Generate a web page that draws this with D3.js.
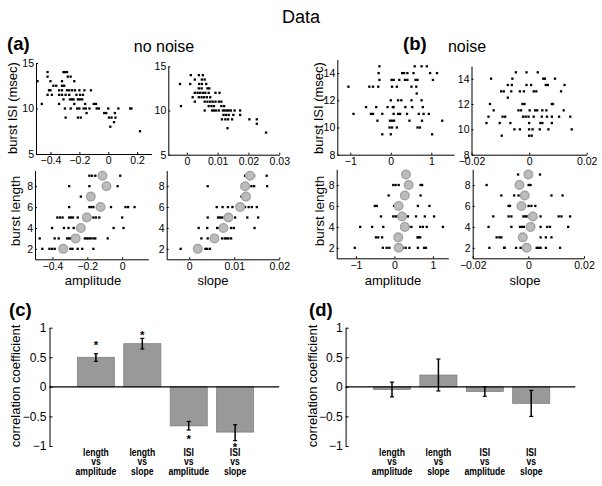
<!DOCTYPE html>
<html><head><meta charset="utf-8">
<script src="https://cdn.jsdelivr.net/npm/d3@7"></script>
<style>body{margin:0;background:#fff} svg{display:block} text{font-family:"Liberation Sans",Arial,Helvetica,sans-serif}</style>
</head><body><svg id="fig" width="602" height="486"></svg>
<script>
// ---------- DATA ----------
// (a) no noise: amplitude vs burst ISI
const noNoiseAmpISI = [[-0.49,13],[-0.46,10.5],[-0.42,13.5],[-0.42,14],[-0.40,13],[-0.41,12],[-0.40,12],[-0.42,11.5],[-0.39,11.5],[-0.38,12.5],[-0.36,12.5],[-0.34,12],[-0.32,12],[-0.34,11.5],[-0.32,11.5],[-0.295,11.5],[-0.34,10.5],[-0.32,13],[-0.31,14],[-0.30,14],[-0.285,14],[-0.32,12.5],[-0.305,12.5],[-0.31,11],[-0.30,10],[-0.295,9],[-0.28,13.5],[-0.26,13.5],[-0.285,12],[-0.27,12],[-0.25,12],[-0.27,11.5],[-0.265,11],[-0.25,11],[-0.24,11],[-0.235,13],[-0.26,10],[-0.235,10.5],[-0.23,12],[-0.22,11.5],[-0.21,11],[-0.195,11],[-0.18,11],[-0.2,12],[-0.165,12],[-0.195,11.5],[-0.175,11.5],[-0.215,10],[-0.2,10],[-0.21,9],[-0.19,9],[-0.16,10.5],[-0.17,10],[-0.155,10],[-0.15,9.5],[-0.13,10],[-0.12,12],[-0.1,10.5],[-0.085,10.5],[-0.08,10],[-0.065,10],[-0.028,9.5],[-0.014,9.5],[0,10],[0.005,9],[0.023,9],[0.014,8],[0.04,8.5],[0.05,9],[0.046,9.5],[0.07,10],[0.152,10],[0.16,10],[0.22,7.5]];
// (a) no noise: slope vs burst ISI
const noNoiseSlopeISI = [[-0.0022,13],[-0.0019,10.5],[0.0011,13],[0.0013,14],[0.0026,13.5],[0.0019,11.5],[0.0026,12],[0.0026,11],[0.0039,14],[0.0052,14],[0.004,13],[0.0049,13],[0.0049,13.5],[0.0058,13.5],[0.0039,12.5],[0.0048,12.5],[0.0035,12],[0.0043,12],[0.0052,12],[0.0060,12],[0.0071,12],[0.0039,11.5],[0.0048,11.5],[0.0056,11.5],[0.0065,11.5],[0.0076,11.5],[0.0063,13],[0.0067,12.5],[0.0073,12.5],[0.0058,11],[0.0067,11],[0.0076,11],[0.0084,11],[0.0093,11],[0.0104,11],[0.0112,11],[0.0071,10.5],[0.0080,10.5],[0.0088,10.5],[0.0058,10],[0.0082,10],[0.0088,10],[0.0095,10],[0.0104,10],[0.0093,12],[0.0106,12],[0.0112,10.5],[0.0121,10.5],[0.0117,10],[0.0123,10],[0.0130,10],[0.0136,10],[0.0143,10],[0.0155,10],[0.0173,10],[0.0119,9.5],[0.0127,9.5],[0.0136,9.5],[0.0151,9.5],[0.0173,9.5],[0.0114,9],[0.0125,9],[0.0134,9],[0.0147,9],[0.0132,8],[0.0203,9],[0.0227,9],[0.0227,8.5],[0.0257,7.5]];
// (b) noise: amplitude vs burst ISI
const noiseAmpISI = [[-1.045,13],[-0.92,11],[-0.61,11.5],[-0.49,11],[-0.44,11],[-0.53,13],[-0.44,13],[-0.36,11.5],[-0.33,10.5],[-0.28,14.5],[-0.30,14],[-0.28,13.5],[-0.31,13],[-0.21,11],[-0.21,9.5],[-0.08,11.5],[0,12],[-0.02,10.5],[0.03,10.5],[0.08,10.5],[-0.03,10],[0.03,10],[0.15,10],[0,9.5],[0.02,13.5],[0.07,13.5],[0.03,13],[0.15,13],[0.05,11.5],[0.07,11.5],[0.07,11],[0.18,11],[0.23,11],[0.18,12],[0.26,12],[0.21,13.5],[0.28,14],[0.33,14],[0.41,14],[0.35,13.5],[0.41,13.5],[0.36,11.5],[0.40,11],[0.46,10.5],[0.51,12],[0.51,13],[0.53,11.5],[0.56,14],[0.59,14.5],[0.61,13.5],[0.66,13.5],[0.63,13],[0.64,12.5],[0.69,11],[0.66,10],[0.72,10],[0.76,14.5],[0.76,12],[0.77,10.5],[0.79,11.5],[0.81,11],[0.89,14.5],[0.94,11],[0.97,14],[1.04,13.5],[1.02,9.5],[1.14,14],[1.27,10.5]];
// (b) noise: slope vs burst ISI
const noiseSlopeISI = [[-0.0148,10.5],[-0.0141,11],[-0.0136,12],[-0.0132,14],[-0.0123,11.5],[-0.0102,10.5],[-0.0095,9.5],[-0.0097,13],[-0.0088,13],[-0.0092,11],[-0.0083,11],[-0.0074,12.5],[-0.0074,13.5],[-0.0065,10.5],[-0.0062,13],[-0.006,13.5],[-0.0058,14],[-0.0051,10],[-0.0046,14.5],[-0.0037,11.5],[-0.0028,11.5],[-0.0032,13],[-0.0018,13],[-0.0032,10],[-0.0023,12],[-0.0016,12],[-0.0021,11],[-0.0009,13.5],[-0.0009,14.5],[-0.0012,11],[-0.0002,11],[0.0002,11.5],[0,10.5],[0,10],[0,9.5],[0.0009,9.5],[0.0007,13.5],[0.0012,10],[0.0016,11],[0.0021,11.5],[0.0028,11.5],[0.0016,13],[0.0025,13],[0.003,14.5],[0.0037,10],[0.0039,10.5],[0.0046,10.5],[0.0044,11],[0.0046,11.5],[0.0049,14],[0.0055,14],[0.0058,13.5],[0.0065,13.5],[0.006,11.5],[0.0062,11],[0.0067,10],[0.0079,12],[0.0083,12],[0.0079,10.5],[0.0079,11],[0.009,14],[0.0104,11],[0.0111,13],[0.0120,11.5],[0.0123,13.5],[0.0143,11],[0.0148,10]];

// burst length rows: [length, [x values]]
const lengths = [2,3,4,5,6,7,8,9];
const noNoiseAmpLen = [[9,[-0.188,-0.173,-0.154,-0.011]],[8,[-0.304,-0.188,-0.026]],[7,[-0.237,-0.165]],[6,[-0.304,-0.188,-0.177,-0.165,-0.064,0.019,0.034,0.071]],[5,[-0.372,-0.357,-0.342,-0.304,-0.293,-0.282,-0.255,-0.165,-0.150,-0.131,0]],[4,[-0.402,-0.334,-0.308,-0.278,-0.049,0.008]],[3,[-0.473,-0.387,-0.364,-0.315,-0.304,-0.293,-0.214,-0.203,-0.192,-0.180,-0.165,-0.154,-0.083]],[2,[-0.458,-0.417,-0.402,-0.387,-0.297,-0.285,-0.255,-0.229,-0.165]]];
const noNoiseAmpMean = [-0.338,-0.267,-0.237,-0.203,-0.124,-0.18,-0.09,-0.113];
const noNoiseSlopeLen = [[9,[0.0124,0.0144,0.0172]],[8,[0.0041,0.0138,0.0144,0.0173]],[7,[0.0116,0.0132]],[6,[0.0061,0.0074,0.0086,0.0096,0.0124,0.0132,0.0139,0.0150]],[5,[0.0041,0.0064,0.0068,0.0073,0.0079,0.0102,0.0129,0.0153]],[4,[0.0021,0.0040,0.0062,0.0067,0.0093,0.0099,0.0145]],[3,[0.0027,0.0041,0.0073,0.0079,0.0083,0.0087,0.0093]],[2,[-0.0019,0.0036,0.0040,0.0046]]];
const noNoiseSlopeMean = [0.0019,0.0056,0.0076,0.0087,0.0113,0.0126,0.0124,0.0135];
const noiseAmpLen = [[8,[-0.03,0.03,0.11,0.68,0.72]],[7,[-0.15,0.68]],[6,[-0.51,-0.46,-0.01,0.61,0.91]],[5,[-0.35,-0.03,0.03,0.08,0.35,0.56,0.79,1.03]],[4,[-0.89,-0.58,-0.29,0.37,0.44,0.67,0.74,0.84,1.26]],[3,[-0.48,-0.42,-0.32,0.60,0.63,0.67]],[2,[-1.03,-0.30,-0.20,-0.13,0.03,0.22,0.29,0.39,0.61,0.77,0.82]]];
const noiseAmpMean = [0.11,0.10,0.27,0.20,0.11,0.27,0.37,0.30];
const noiseSlopeLen = [[9,[-0.0037,0.0042]],[8,[-0.015,0.0001,0.0008]],[7,[-0.0097,-0.0051,-0.0035,0.0083,0.0123]],[6,[-0.0071,-0.0066,0.0001,0.0011,0.0025]],[5,[-0.0126,-0.0071,-0.0061,-0.0018,-0.0011,-0.0006,0.0044,0.0109,0.0119,0.015]],[4,[-0.0143,-0.0061,-0.003,-0.0023,-0.0016,0.0044,0.0068,0.0078,0.0143]],[3,[-0.0114,-0.0104,-0.0097,0.0044,0.0063,0.0083]],[2,[-0.014,-0.0087,-0.0085,-0.0044,-0.0028,-0.002,0.003,0.0037,0.0044,0.0063,0.0114]]];
const noiseSlopeMean = [-0.0006,-0.002,0.0008,0.0016,-0.0025,-0.0013,-0.0032,0];

// tick labels
const ticksAmpA = [-0.4,-0.2,0,0.2];
const ticksAmpA2 = [-0.4,-0.2,0];
const ticksSlopeA = [0,0.01,0.02,0.03];
const ticksSlopeA2 = [0,0.01,0.02];
const ticksAmpB = [-1,0,1];
const ticksSlopeB = [-0.02,0,0.02];
const ticksISIA = [5,10,15];
const ticksISIB = [8,10,12,14];
const ticksLen = [2,4,6,8];
const ticksCorr = [-1,-0.5,0,0.5,1];

// bar charts
const barCategories = [["length","vs","amplitude"],["length","vs","slope"],["ISI","vs","amplitude"],["ISI","vs","slope"]];
const noNoiseCorr = [0.50,0.73,-0.66,-0.765];
const noNoiseErrLow = [0.43,0.64,-0.73,-0.91];
const noNoiseErrHigh = [0.56,0.82,-0.585,-0.64];
const noNoiseStars = [0.75,0.92,-0.845,-0.97];
const noiseCorr = [-0.045,0.20,-0.08,-0.28];
const noiseErrLow = [-0.17,-0.07,-0.16,-0.50];
const noiseErrHigh = [0.08,0.47,0.0,-0.06];

// ---------- DRAWING ----------
const svg = d3.select("#fig");
const FONT = '"Liberation Sans",Arial,Helvetica,sans-serif';
const fmt = d3.format("");

function styleAxis(g, fs){
  g.attr("font-family", FONT).attr("font-size", fs);
  g.selectAll("path.domain").attr("stroke","#000").attr("stroke-width",1);
  g.selectAll(".tick line").attr("stroke","#000");
  g.selectAll(".tick text").attr("fill","#000");
}

function scatter(cfg){
  const x = d3.scaleLinear().domain(cfg.xd).range(cfg.xr);
  const y = d3.scaleLinear().domain(cfg.yd).range(cfg.yr);
  const gx = svg.append("g").attr("transform",`translate(0,${cfg.yr[0]})`)
    .call(d3.axisBottom(x).tickValues(cfg.xt).tickFormat(fmt).tickSizeInner(-2).tickSizeOuter(0).tickPadding(3));
  styleAxis(gx, 10.5);
  const gy = svg.append("g").attr("transform",`translate(${cfg.xr[0]},0)`)
    .call(d3.axisLeft(y).tickValues(cfg.yt).tickFormat(fmt).tickSizeInner(-2).tickSizeOuter(0).tickPadding(2));
  styleAxis(gy, 10.5);
  const g = svg.append("g");
  g.selectAll("rect.pt").data(cfg.points).join("rect").attr("class","pt")
    .attr("x",d=>x(d[0])-1.15).attr("y",d=>y(d[1])-1.15).attr("width",2.3).attr("height",2.3).attr("fill","#000");
  if(cfg.means){
    g.selectAll("circle.mean").data(cfg.means).join("circle").attr("class","mean")
      .attr("cx",d=>x(d[0])).attr("cy",d=>y(d[1])).attr("r",4.3)
      .attr("fill","#bcbcbc").attr("stroke","#a2a2a2").attr("stroke-width",1.4);
  }
}
function flatRows(rows){ const out=[]; rows.forEach(([len,xs])=>xs.forEach(v=>out.push([v,len]))); return out; }
function meanPts(means){ return means.map((m,i)=>[m,lengths[i]]); }

// (a) top
scatter({xd:[-0.5,0.3], xr:[36,151.6], yd:[5,15], yr:[154,63], xt:ticksAmpA, yt:ticksISIA, points:noNoiseAmpISI});
scatter({xd:[-0.006,0.03], xr:[168.3,279.3], yd:[5,15], yr:[154.7,66.3], xt:ticksSlopeA, yt:ticksISIA, points:noNoiseSlopeISI});
// (a) bottom
scatter({xd:[-0.5,0.15], xr:[35,148.3], yd:[1,9.5], yr:[259.3,170.5], xt:ticksAmpA2, yt:ticksLen, points:flatRows(noNoiseAmpLen), means:meanPts(noNoiseAmpMean)});
scatter({xd:[-0.005,0.02], xr:[166.7,279.3], yd:[1,9.5], yr:[259.3,170.5], xt:ticksSlopeA2, yt:ticksLen, points:flatRows(noNoiseSlopeLen), means:meanPts(noNoiseSlopeMean)});
// (b) top
scatter({xd:[-1.32,1.56], xr:[337.3,454], yd:[8,15], yr:[154.7,59.5], xt:ticksAmpB, yt:ticksISIB, points:noiseAmpISI});
scatter({xd:[-0.02,0.02], xr:[471.5,586.7], yd:[8,15], yr:[154.7,66], xt:ticksSlopeB, yt:ticksISIB, points:noiseSlopeISI});
// (b) bottom
scatter({xd:[-1.5,1.4], xr:[336.7,448.3], yd:[1,9.5], yr:[258.3,169.3], xt:ticksAmpB, yt:ticksLen, points:flatRows(noiseAmpLen), means:meanPts(noiseAmpMean)});
scatter({xd:[-0.02,0.02], xr:[472.7,584], yd:[1,9.5], yr:[258.3,169.3], xt:ticksSlopeB, yt:ticksLen, points:flatRows(noiseSlopeLen), means:meanPts(noiseSlopeMean)});

function bars(cfg){
  const x = d3.scaleLinear().domain([0,4.95]).range(cfg.xr);
  const y = d3.scaleLinear().domain([-1,1]).range([446,327.7]);
  const idx = d3.range(cfg.vals.length);
  const bw = x(0.8)-x(0);
  const g = svg.append("g");
  g.selectAll("rect").data(idx).join("rect")
    .attr("x",i=>x(i+1)-bw/2).attr("width",bw)
    .attr("y",i=>y(Math.max(0,cfg.vals[i]))).attr("height",i=>Math.abs(y(cfg.vals[i])-y(0)))
    .attr("fill","#999").attr("stroke","#7a7a7a").attr("stroke-width",0.7);
  // zero line
  g.append("line").attr("x1",x(0)).attr("x2",x(4.95)).attr("y1",y(0)).attr("y2",y(0)).attr("stroke","#000").attr("stroke-width",1.2);
  // error bars
  idx.forEach(i=>{
    const cx = x(i+1);
    g.append("line").attr("x1",cx).attr("x2",cx).attr("y1",y(cfg.lo[i])).attr("y2",y(cfg.hi[i])).attr("stroke","#000").attr("stroke-width",1.5);
    [cfg.lo[i],cfg.hi[i]].forEach(v=>g.append("line").attr("x1",cx-2).attr("x2",cx+2).attr("y1",y(v)).attr("y2",y(v)).attr("stroke","#000").attr("stroke-width",1.2));
  });
  if(cfg.stars){
    idx.forEach(i=>g.append("text").attr("x",x(i+1)).attr("y",y(cfg.stars[i])+6.5).attr("text-anchor","middle")
      .attr("font-size",11.5).attr("font-weight","bold").text("*"));
  }
  const gy = svg.append("g").attr("transform",`translate(${x(0)},0)`)
    .call(d3.axisLeft(y).tickValues(ticksCorr).tickFormat(fmt).tickSizeInner(-3).tickSizeOuter(0).tickPadding(3));
  styleAxis(gy, 12);
  // category labels (one text element, three lines)
  idx.forEach(i=>{
    const t = svg.append("text").attr("transform",`translate(${x(i+1)},455.5) scale(0.82,1)`)
      .attr("text-anchor","middle").attr("font-size",10.5).attr("font-weight","bold");
    barCategories[i].forEach((s,j)=>t.append("tspan").attr("x",0).attr("y",j*10).text(s));
  });
  svg.append("text").attr("transform",`translate(${cfg.labelX},386) rotate(-90)`).attr("text-anchor","middle")
    .attr("dominant-baseline","central").attr("font-size",13).text("correlation coefficient");
}
bars({xr:[49.5,279.2], vals:noNoiseCorr, lo:noNoiseErrLow, hi:noNoiseErrHigh, stars:noNoiseStars, labelX:15});
bars({xr:[345.6,575.3], vals:noiseCorr, lo:noiseErrLow, hi:noiseErrHigh, labelX:312});

// text
function txt(x,y,s,fs,opt={}){
  const t = svg.append("text").attr("x",x).attr("y",y).attr("font-size",fs).text(s);
  if(opt.anchor) t.attr("text-anchor",opt.anchor);
  if(opt.bold) t.attr("font-weight","bold");
  if(opt.rot){ t.attr("transform",`rotate(-90,${x},${y})`).attr("dominant-baseline","central"); }
  return t;
}
txt(301,23,"Data",18,{anchor:"middle"});
txt(7,50,"(a)",18.5,{bold:true});
txt(403,50,"(b)",18.5,{bold:true});
txt(9,316,"(c)",18.5,{bold:true});
txt(309,316,"(d)",18.5,{bold:true});
txt(164,52,"no noise",16,{anchor:"middle"});
txt(467,52,"noise",16,{anchor:"middle"});
txt(12.5,108,"burst ISI (msec)",13,{anchor:"middle",rot:true});
txt(318,108,"burst ISI (msec)",13,{anchor:"middle",rot:true});
txt(15,211,"burst length",13.5,{anchor:"middle",rot:true});
txt(319,211,"burst length",13.5,{anchor:"middle",rot:true});
txt(93,285,"amplitude",13,{anchor:"middle"});
txt(213,285,"slope",13,{anchor:"middle"});
txt(393,285,"amplitude",13,{anchor:"middle"});
txt(525,285,"slope",13,{anchor:"middle"});
</script></body></html>
